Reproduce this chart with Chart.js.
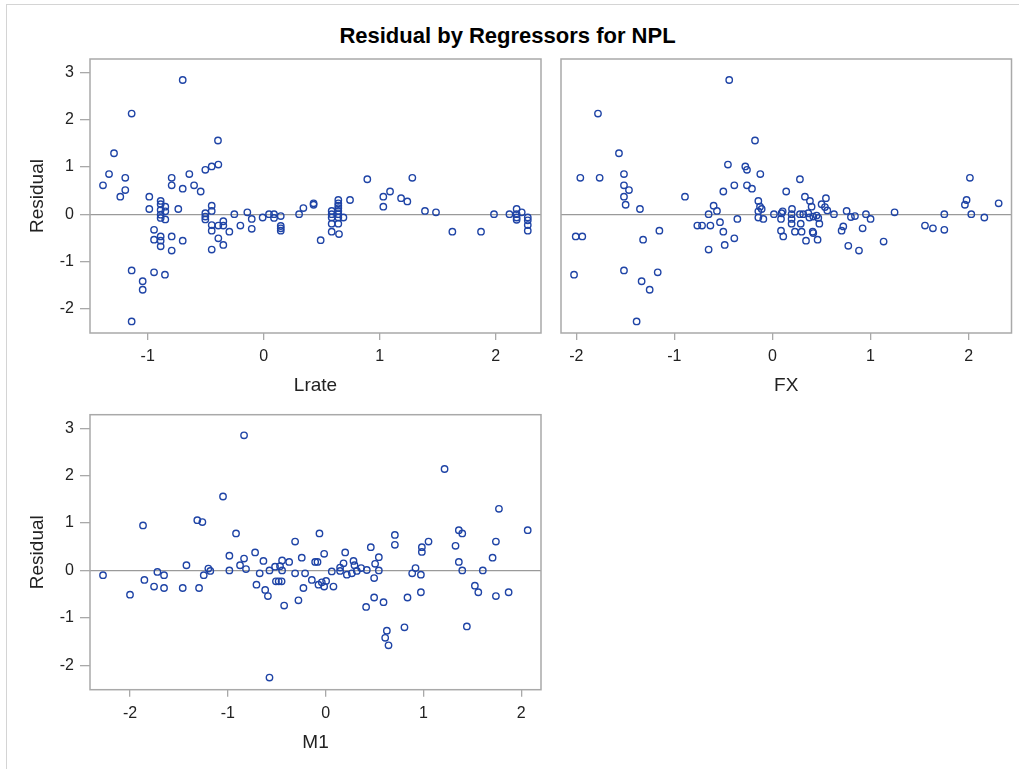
<!DOCTYPE html>
<html>
<head>
<meta charset="utf-8">
<title>Residual by Regressors for NPL</title>
<script src="https://cdn.jsdelivr.net/npm/chart.js@4/dist/chart.umd.min.js"></script>
<style>
  html, body { margin: 0; padding: 0; background: #fff; }
  #page { position: relative; width: 1019px; height: 769px; overflow: hidden; background: #fff; }
  #edge { position: absolute; left: 6px; top: 4px; right: -2px; bottom: -2px;
          border-left: 1px solid #d4d4d4; border-top: 1px solid #d4d4d4; }
  #title { position: absolute; left: 0; top: 22px; width: 1015px; text-align: center;
           font: bold 22px "Liberation Sans", Arial, sans-serif; color: #000; line-height: 28px; }
  canvas { position: absolute; }
</style>
</head>
<body>
<div id="page">
  <div id="edge"></div>
  <div id="title">Residual by Regressors for NPL</div>
  <canvas id="pLrate" width="560" height="360" style="left:0px;top:50px"></canvas>
  <canvas id="pFX" width="474" height="360" style="left:545px;top:50px"></canvas>
  <canvas id="pM1" width="560" height="364" style="left:0px;top:405px"></canvas>
</div>
<script>
// Regressor values (x) and residuals (y) for each panel
const lrateX = [
  -0.698, -1.138, -1.29, -0.394, -1.333, -1.193, -1.385, -1.193, -1.236, -0.793,
  -0.793, -0.641, -0.698, -0.60, -0.543, -0.503, -0.448, -0.391, -0.986, -0.986,
  -0.888, -0.888, -0.848, -0.888, -0.848, -0.888, -0.888, -0.848, -0.736, -0.945,
  -0.888, -0.945, -0.888, -0.888, -0.793, -0.698, -0.793, -1.138, -0.945, -0.851,
  -1.043, -1.043, -1.138, -0.448, -0.448, -0.503, -0.503, -0.503, -0.448, -0.448,
  -0.391, -0.348, -0.348, -0.296, -0.391, -0.348, -0.448, -0.253, -0.201, -0.141,
  -0.103, -0.103, -0.009, 0.046, 0.089, 0.089, 0.147, 0.147, 0.147, 0.147,
  0.305, 0.342, 0.43, 0.43, 0.643, 0.643, 0.643, 0.643, 0.643, 0.586,
  0.586, 0.586, 0.643, 0.643, 0.687, 0.586, 0.643, 0.586, 0.649, 0.491,
  0.744, 0.893, 1.031, 1.031, 1.089, 1.184, 1.238, 1.281, 1.39, 1.485,
  1.626, 1.873, 1.985, 2.118, 2.18, 2.18, 2.18, 2.18, 2.224, 2.276,
  2.276, 2.276, 2.276
];
const lrateResid = [
  2.84, 2.13, 1.29, 1.56, 0.85, 0.77, 0.61, 0.51, 0.37, 0.77,
  0.61, 0.85, 0.54, 0.61, 0.48, 0.94, 1.01, 1.05, 0.37, 0.11,
  0.28, 0.21, 0.16, 0.09, 0.06, -0.01, -0.08, -0.11, 0.11, -0.33,
  -0.47, -0.54, -0.56, -0.68, -0.47, -0.56, -0.77, -1.19, -1.23, -1.28,
  -1.42, -1.60, -2.27, 0.18, 0.07, 0.02, -0.05, -0.11, -0.23, -0.35,
  -0.24, -0.15, -0.24, -0.37, -0.51, -0.65, -0.75, 0.00, -0.24, 0.04,
  -0.10, -0.31, -0.07, 0.00, 0.00, -0.08, -0.04, -0.25, -0.30, -0.35,
  0.00, 0.13, 0.23, 0.20, 0.30, 0.23, 0.18, 0.13, 0.07, 0.07,
  0.00, -0.07, 0.00, -0.07, -0.07, -0.20, -0.20, -0.37, -0.42, -0.55,
  0.30, 0.74, 0.37, 0.16, 0.48, 0.34, 0.27, 0.77, 0.07, 0.04,
  -0.37, -0.37, 0.00, 0.00, 0.11, 0.00, -0.07, -0.12, 0.04, -0.07,
  -0.13, -0.23, -0.35
];

const fxX = [
  -0.441, -1.779, -1.565, -0.178, -1.959, -1.762, -1.514, -1.514, -1.463, -1.514,
  -1.497, -1.351, -0.892, -0.454, -0.277, -0.26, -0.124, -0.389, -0.26, -0.209,
  -0.501, -0.60, -0.566, -0.651, -0.144, -0.127, -0.11, -0.144, -0.144, -0.093,
  0.14, 0.015, 0.093, 0.087, 0.087, 0.11, -2.006, -1.939, -2.023, -1.319,
  -1.153, -1.514, -1.17, -1.334, -1.252, -1.385, -0.766, -0.718, -0.633, -0.535,
  -0.501, -0.358, -0.389, -0.487, -0.651, 0.28, 0.331, 0.382, 0.399, 0.545,
  0.501, 0.535, 0.559, 0.199, 0.104, 0.195, 0.28, 0.314, 0.365, 0.416,
  0.45, 0.467, 0.376, 0.195, 0.195, 0.288, 0.478, 0.229, 0.297, 0.41,
  0.416, 0.342, 0.46, 0.627, 0.756, 0.80, 0.841, 0.953, 1.00, 0.705,
  0.722, 0.919, 0.773, 0.882, 1.133, 1.245, 1.555, 1.636, 1.752, 1.752,
  1.962, 1.979, 2.013, 2.027, 2.16, 2.306
];
const fxResid = [
  2.84, 2.13, 1.29, 1.56, 0.77, 0.77, 0.85, 0.61, 0.51, 0.37,
  0.20, 0.11, 0.37, 1.05, 1.01, 0.94, 0.85, 0.61, 0.61, 0.54,
  0.48, 0.18, 0.07, 0.00, 0.28, 0.16, 0.11, 0.06, -0.07, -0.10,
  0.48, 0.00, 0.02, -0.10, -0.35, -0.47, -0.47, -0.47, -1.28, -0.54,
  -0.35, -1.19, -1.23, -1.42, -1.60, -2.27, -0.24, -0.24, -0.24, -0.17,
  -0.37, -0.10, -0.51, -0.65, -0.75, 0.74, 0.37, 0.28, 0.16, 0.34,
  0.21, 0.15, 0.08, 0.11, 0.06, 0.00, 0.00, 0.00, 0.02, -0.05,
  -0.03, -0.08, -0.07, -0.10, -0.20, -0.20, -0.20, -0.37, -0.37, -0.37,
  -0.40, -0.56, -0.54, 0.00, 0.07, -0.06, -0.04, 0.00, -0.10, -0.35,
  -0.26, -0.30, -0.67, -0.77, -0.58, 0.04, -0.24, -0.30, 0.00, -0.33,
  0.20, 0.30, 0.77, 0.00, -0.07, 0.23
];

const m1X = [
  -0.834, -1.049, -1.312, -1.26, -1.867, -0.916, -0.312, -0.984, -0.721, -0.244,
  -0.834, -0.636, -1.423, -0.875, -0.445, -0.373, -0.517, -0.466, -0.445, -0.814,
  -0.984, -1.199, -1.179, -0.574, -0.674, -0.312, -0.21, -0.141, -0.107, -2.276,
  -1.72, -1.652, -1.246, -1.853, -1.754, -1.652, -1.461, -1.294, -2.0, -0.707,
  -0.618, -0.59, -0.508, -0.48, -0.45, -0.227, -0.278, -0.424, -0.574, -0.063,
  -0.083, -0.015, -0.073, -0.039, -0.015, 0.005, 0.08, 0.063, 0.148, 0.148,
  0.183, 0.20, 0.217, 0.268, 0.285, 0.295, 0.319, 0.363, 0.421, 0.462,
  0.506, 0.544, 0.544, 0.496, 0.496, 0.414, 0.592, 0.626, 0.609, 0.643,
  0.806, 0.708, 0.708, 0.837, 0.885, 0.919, 0.974, 0.974, 0.984, 0.984,
  1.052, 1.216, 1.362, 1.397, 1.328, 1.362, 1.397, 1.444, 1.526, 1.561,
  1.607, 1.707, 1.741, 1.772, 1.741, 1.871, 2.066
];
const m1Resid = [
  2.85, 1.56, 1.06, 1.02, 0.95, 0.78, 0.61, 0.31, 0.38, 0.27,
  0.25, 0.20, 0.11, 0.11, 0.21, 0.18, 0.08, 0.09, 0.00, 0.03,
  0.00, 0.04, -0.01, 0.00, -0.06, -0.06, -0.06, -0.20, 0.18, -0.10,
  -0.03, -0.10, -0.10, -0.20, -0.34, -0.37, -0.37, -0.37, -0.51, -0.30,
  -0.41, -0.54, -0.23, -0.23, -0.23, -0.37, -0.63, -0.74, -2.26, 0.78,
  0.18, 0.35, -0.30, -0.25, -0.34, -0.22, -0.34, -0.02, 0.06, -0.01,
  0.15, 0.38, -0.09, -0.06, 0.20, 0.11, -0.01, 0.05, 0.01, 0.49,
  0.14, 0.28, 0.00, -0.16, -0.57, -0.77, -0.67, -1.27, -1.42, -1.58,
  -1.20, 0.75, 0.54, -0.57, -0.06, 0.05, -0.09, -0.46, 0.49, 0.39,
  0.61, 2.14, 0.85, 0.78, 0.52, 0.18, 0.00, -1.18, -0.32, -0.46,
  0.00, 0.27, 0.61, 1.30, -0.54, -0.46, 0.85
];

const residTitle = 'Residual';
const residRange = [-2.515, 3.285];

const FONT = '"Liberation Sans", Arial, sans-serif';
const INK = '#222';
const RULE = '#a9a9a9';
const MARK = '#1f44a6';

// Outline of each plot area, drawn behind the markers
const framePlugin = {
  id: 'plotFrame',
  beforeDatasetsDraw(chart) {
    const { ctx, chartArea: a } = chart;
    ctx.save();
    ctx.strokeStyle = RULE;
    ctx.lineWidth = 1.5;
    ctx.strokeRect(a.left, a.top, a.right - a.left, a.bottom - a.top);
    ctx.restore();
  }
};

function residualPanel(id, xs, ys, cfg) {
  const pts = xs.map((x, i) => ({ x: x, y: ys[i] }));
  return new Chart(document.getElementById(id), {
    type: 'scatter',
    data: {
      datasets: [{
        data: pts,
        pointStyle: 'circle',
        pointRadius: 3.2,
        pointHoverRadius: 3.2,
        pointBorderWidth: 1.4,
        pointBorderColor: MARK,
        pointBackgroundColor: 'rgba(0,0,0,0)'
      }]
    },
    options: {
      responsive: false,
      animation: false,
      events: [],
      layout: { padding: cfg.pad },
      plugins: { legend: { display: false }, tooltip: { enabled: false } },
      scales: {
        x: {
          type: 'linear',
          min: cfg.xRange[0],
          max: cfg.xRange[1],
          border: { display: false },
          grid: { drawOnChartArea: false, tickLength: 7, tickColor: RULE, lineWidth: 1.3 },
          ticks: {
            stepSize: 1, includeBounds: false, padding: 7, maxRotation: 0,
            color: INK, font: { family: FONT, size: 16 }
          },
          title: {
            display: true, text: cfg.xTitle, color: INK,
            font: { family: FONT, size: 19 }, padding: { top: 0, bottom: 6 }
          },
          afterFit(s) { s.height = 70; s.paddingLeft = 0; s.paddingRight = 0; }
        },
        y: {
          type: 'linear',
          min: residRange[0],
          max: residRange[1],
          border: { display: false },
          grid: {
            drawTicks: cfg.showY,
            tickLength: 10,
            tickColor: RULE,
            lineWidth: 1.3,
            color: (c) => (c.tick && c.tick.value === 0) ? '#9a9a9a' : 'rgba(0,0,0,0)'
          },
          ticks: {
            display: cfg.showY, stepSize: 1, includeBounds: false, padding: 6,
            color: INK, font: { family: FONT, size: 16 }
          },
          title: {
            display: cfg.showY, text: residTitle, color: INK,
            font: { family: FONT, size: 19 }, padding: { top: 26, bottom: 0 }
          },
          afterFit(s) { s.width = cfg.yWidth; s.paddingTop = 0; s.paddingBottom = 0; }
        }
      }
    },
    plugins: [framePlugin]
  });
}

residualPanel('pLrate', lrateX, lrateResid, {
  xTitle: 'Lrate', xRange: [-1.497, 2.39], showY: true, yWidth: 90,
  pad: { left: 0, right: 19, top: 9, bottom: 7 }
});
residualPanel('pFX', fxX, fxResid, {
  xTitle: 'FX', xRange: [-2.156, 2.437], showY: false, yWidth: 16,
  pad: { left: 0, right: 7.5, top: 9, bottom: 7 }
});
residualPanel('pM1', m1X, m1Resid, {
  xTitle: 'M1', xRange: [-2.409, 2.202], showY: true, yWidth: 90,
  pad: { left: 0, right: 19, top: 9.7, bottom: 9.3 }
});
</script>
</body>
</html>
